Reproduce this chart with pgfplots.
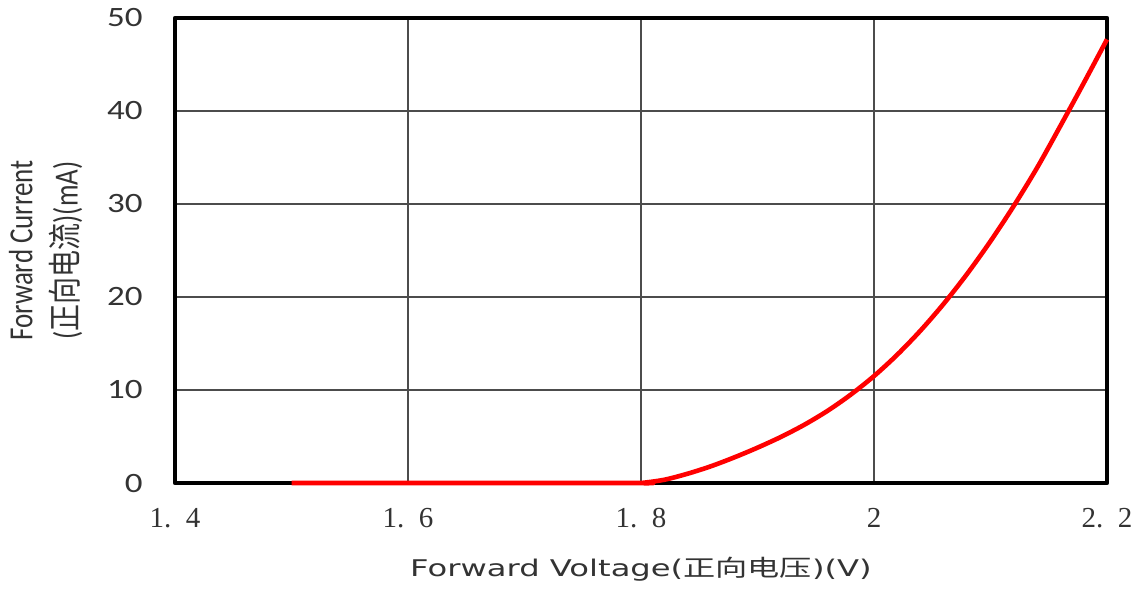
\documentclass[border=0pt]{standalone}
\usepackage{fontspec}
\usepackage{graphicx}
\usepackage{pgfplots}
\pgfplotsset{compat=1.18}
\setmainfont{Carlito}
\newfontfamily\cjk{Noto Sans CJK SC}
\newfontfamily\wide{DejaVu Sans}
\newfontfamily\numfont{Liberation Serif}

\begin{document}
\begin{tikzpicture}
\begin{axis}[
  width=466pt, height=232.5pt, scale only axis,
  xmin=1.4, xmax=2.2, ymin=0, ymax=50,
  xtick={1.4,1.6,1.8,2.0,2.2},
  xticklabels={1.\hspace{0.5em}4, 1.\hspace{0.5em}6, 1.\hspace{0.5em}8, 2, 2.\hspace{0.5em}2},
  ytick={0,10,...,50},
  /pgf/number format/assume math mode=true,
  yticklabel={\scalebox{1.25}[1]{\pgfmathprintnumber{\tick}}},
  grid=major,
  major grid style={line width=0.7pt, black!70},
  major tick length=0pt,
  axis line style={line width=2.4pt, black, line join=round},
  clip=false,
  xticklabel style={font=\numfont\fontsize{14.5}{16}\selectfont, text=black!80, inner sep=0pt, anchor=north, yshift=-12.5pt},
  yticklabel style={font=\fontsize{14}{16}\selectfont, text=black!80, inner sep=0pt, anchor=east, xshift=-16pt},
  xlabel={\scalebox{1.4}[1]{\wide Forward Voltage(\cjk 正向电压\wide)(V)}},
  xlabel style={at={(rel axis cs:0.5,0)}, anchor=north, yshift=-37pt, inner sep=0pt, font=\fontsize{11.5}{13}\selectfont, text=black!80},
  ylabel={\scalebox{1}[1.25]{\begin{tabular}{@{}c@{}}Forward Current\\[2pt](\cjk 正向电流\rmfamily)(mA)\end{tabular}}},
  ylabel style={at={(rel axis cs:0,0.5)}, anchor=center, rotate=0, xshift=0pt, yshift=64pt, inner sep=0pt, font=\fontsize{13.5}{16}\selectfont, text=black!80},
]
\addplot[red, line width=2.3pt, line join=round, smooth, tension=0.5] coordinates {
  (1.50,0) (1.79,0) (1.80,0) (1.82,0.35) (1.84,1.0) (1.86,1.8)
  (1.88,2.75) (1.90,3.8) (1.92,4.95) (1.94,6.25) (1.96,7.75) (1.98,9.5)
  (2.00,11.5) (2.02,13.8) (2.04,16.4) (2.06,19.3) (2.08,22.5)
  (2.10,26.0) (2.12,29.8) (2.14,33.9) (2.16,38.4) (2.18,43.0) (2.20,47.7)
};
\coordinate (sw) at (rel axis cs:0,0);
\coordinate (ne) at (rel axis cs:1,1);
\end{axis}
\path (sw) ++(-87.5pt,-53pt) (ne) ++(16.5pt,9pt);
\end{tikzpicture}
\end{document}
